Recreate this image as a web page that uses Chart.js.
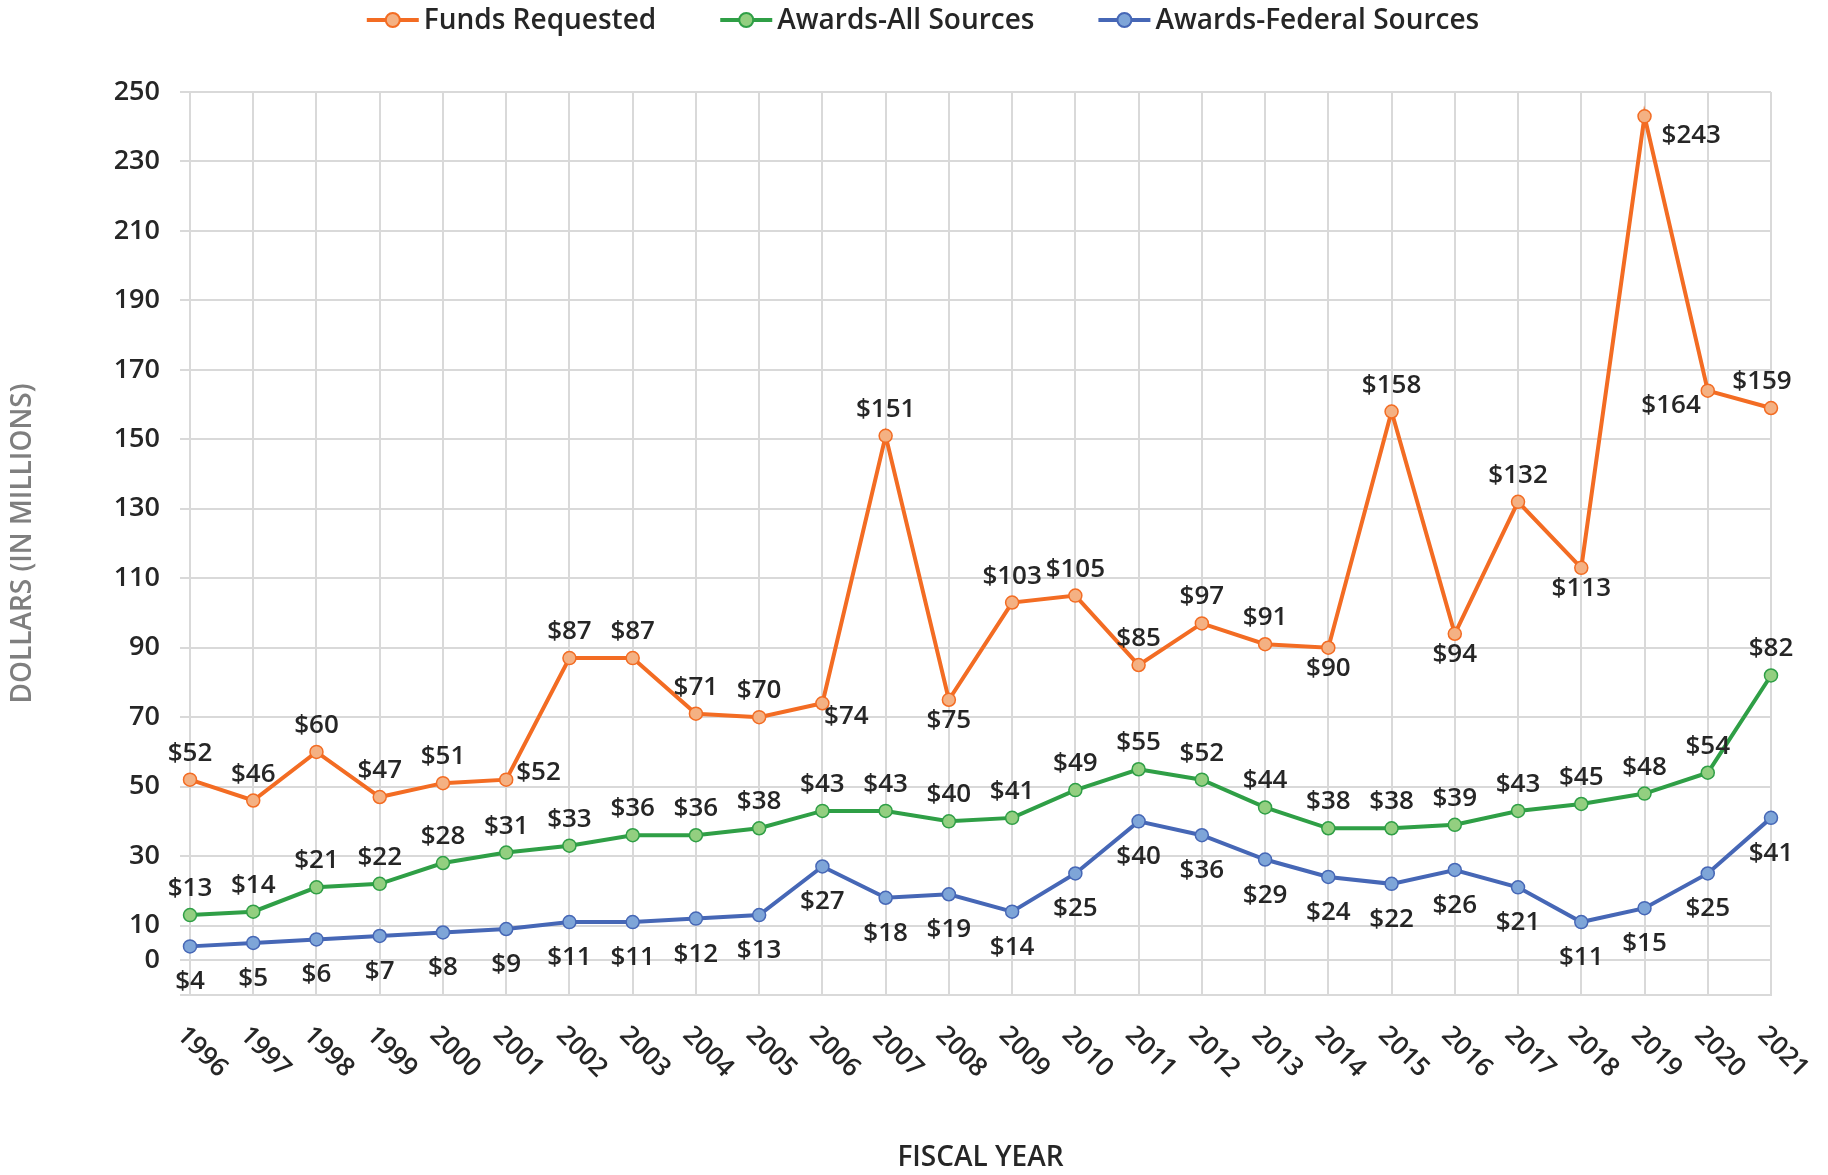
<!DOCTYPE html>
<html>
<head>
<meta charset="utf-8">
<script src="https://cdn.jsdelivr.net/npm/chart.js@4.4.1/dist/chart.umd.min.js"></script>
<style>
  html, body { margin: 0; padding: 0; background: #ffffff; }
</style>
</head>
<body>
<canvas id="c" width="1828" height="1175"></canvas>
<script>
// ===== Dados =====
const years = ['1996', '1997', '1998', '1999', '2000', '2001', '2002', '2003', '2004', '2005', '2006', '2007', '2008',
  '2009', '2010', '2011', '2012', '2013', '2014', '2015', '2016', '2017', '2018', '2019', '2020', '2021'];

const fundsRequested = [52, 46, 60, 47, 51, 52, 87, 87, 71, 70, 74, 151, 75, 103, 105, 85, 97, 91, 90, 158, 94, 132, 113, 243, 164, 159];
const awardsAll = [13, 14, 21, 22, 28, 31, 33, 36, 36, 38, 43, 43, 40, 41, 49, 55, 52, 44, 38, 38, 39, 43, 45, 48, 54, 82];
const awardsFederal = [4, 5, 6, 7, 8, 9, 11, 11, 12, 13, 27, 18, 19, 14, 25, 40, 36, 29, 24, 22, 26, 21, 11, 15, 25, 41];

const yTicks = [-10, 0, 10, 30, 50, 70, 90, 110, 130, 150, 170, 190, 210, 230, 250];

// onde fica cada rótulo de valor (t = acima, b = abaixo, r = direita ...)
const fundsLabelPos = ['t', 't', 't', 't', 't', 'r', 't', 't', 't', 't', 'br', 't', 'b',
  't', 't', 't', 't', 't', 'b', 't', 'b', 't', 'b', 'rb', 'lb', 'tl'];
const allLabelPos = ['t', 't', 't', 't', 't', 't', 't', 't', 't', 't', 't', 't', 't',
  't', 't', 't', 't', 't', 't', 't', 't', 't', 't', 't', 't', 't'];
const federalLabelPos = ['b2', 'b2', 'b2', 'b2', 'b2', 'b2', 'b2', 'b2', 'b2', 'b2', 'b2', 'b2', 'b2',
  'b2', 'b2', 'b2', 'b2', 'b2', 'b2', 'b2', 'b2', 'b2', 'b2', 'b2', 'b2', 'b2'];

// ===== Tema =====
const FONT = "'Open Sans', 'Noto Sans', sans-serif";
const INK = '#262626';
const GRID = '#d9d9d9';

const ORANGE = '#f36c23';
const ORANGE_FILL = '#f4b183';
const GREEN = '#2f9f46';
const GREEN_FILL = '#93cf80';
const BLUE = '#4667b6';
const BLUE_FILL = '#7ea5d8';

// offsets dos rótulos (baseline alfabética)
const OFFS = {
  t: { align: 'center', dx: 0, dy: -19 },
  tl: { align: 'center', dx: -9, dy: -19 },
  b: { align: 'center', dx: 0, dy: 28 },
  b2: { align: 'center', dx: 0, dy: 43 },
  r: { align: 'left', dx: 10, dy: 0 },
  rb: { align: 'left', dx: 17, dy: 27 },
  br: { align: 'center', dx: 24, dy: 21 },
  lb: { align: 'right', dx: -7, dy: 22 },
};

const valueLabels = {
  id: 'valueLabels',
  afterDatasetsDraw(chart) {
    const { ctx } = chart;
    ctx.save();
    ctx.font = `600 26px ${FONT}`;
    ctx.fillStyle = INK;
    ctx.textBaseline = 'alphabetic';
    chart.data.datasets.forEach((ds, di) => {
      const meta = chart.getDatasetMeta(di);
      meta.data.forEach((pt, i) => {
        const o = OFFS[ds.labelPos[i]] || OFFS.t;
        ctx.textAlign = o.align;
        ctx.fillText('$' + ds.data[i], pt.x + o.dx, pt.y + o.dy);
      });
    });
    ctx.restore();
  },
};

// anos inclinados para baixo/direita (Chart.js só gira no outro sentido)
const slantedYears = {
  id: 'slantedYears',
  afterDraw(chart) {
    const { ctx, chartArea } = chart;
    const xs = chart.scales.x;
    ctx.save();
    ctx.font = `600 26px ${FONT}`;
    ctx.fillStyle = INK;
    ctx.textAlign = 'left';
    ctx.textBaseline = 'middle';
    xs.ticks.forEach((t, i) => {
      const x = xs.getPixelForTick(i);
      ctx.save();
      ctx.translate(x - 9, chartArea.bottom + 36);
      ctx.rotate(Math.PI / 4);
      ctx.fillText(chart.data.labels[i], 0, 0);
      ctx.restore();
    });
    ctx.restore();
  },
};

// legenda no estilo Excel: linha + marcador
const lineLegend = {
  id: 'lineLegend',
  afterDraw(chart) {
    const { ctx } = chart;
    const y = 20;
    const markW = 52;
    const textGap = 5;
    const itemGap = 64;
    ctx.save();
    ctx.font = `600 28px ${FONT}`;
    ctx.textBaseline = 'middle';
    ctx.textAlign = 'left';
    const items = chart.data.datasets.map((ds) => ({ ds, w: ctx.measureText(ds.label).width }));
    const total = items.reduce((s, it) => s + markW + textGap + it.w, 0) + itemGap * (items.length - 1);
    let x = 923 - total / 2;
    items.forEach(({ ds, w }) => {
      ctx.strokeStyle = ds.borderColor;
      ctx.lineWidth = 4;
      ctx.beginPath();
      ctx.moveTo(x, y);
      ctx.lineTo(x + markW, y);
      ctx.stroke();
      ctx.beginPath();
      ctx.arc(x + markW / 2, y, 7, 0, Math.PI * 2);
      ctx.fillStyle = ds.pointBackgroundColor;
      ctx.fill();
      ctx.lineWidth = 2;
      ctx.strokeStyle = ds.pointBorderColor;
      ctx.stroke();
      ctx.fillStyle = INK;
      ctx.fillText(ds.label, x + markW + textGap, y + 1);
      x += markW + textGap + w + itemGap;
    });
    ctx.restore();
  },
};

function lineSet(label, data, color, fill, labelPos) {
  return {
    label,
    data,
    labelPos,
    borderColor: color,
    backgroundColor: color,
    borderWidth: 4,
    tension: 0,
    pointRadius: 6.5,
    pointBorderWidth: 1.5,
    pointBackgroundColor: fill,
    pointBorderColor: color,
    clip: false,
  };
}

new Chart(document.getElementById('c'), {
  type: 'line',
  data: {
    labels: years,
    datasets: [
      lineSet('Funds Requested', fundsRequested, ORANGE, ORANGE_FILL, fundsLabelPos),
      lineSet('Awards-All Sources', awardsAll, GREEN, GREEN_FILL, allLabelPos),
      lineSet('Awards-Federal Sources', awardsFederal, BLUE, BLUE_FILL, federalLabelPos),
    ],
  },
  options: {
    responsive: false,
    animation: false,
    layout: { padding: { top: 92, right: 57, left: 0, bottom: 0 } },
    plugins: {
      legend: { display: false },
      tooltip: { enabled: false },
    },
    scales: {
      x: {
        offset: false,
        afterFit: (s) => { s.height = 180; },
        ticks: { display: false },
        grid: { color: GRID, lineWidth: 2, drawTicks: false },
        border: { color: GRID, width: 2 },
        title: {
          display: true,
          text: 'FISCAL YEAR',
          color: INK,
          font: { family: FONT, size: 28, weight: '600' },
          padding: { top: 0, bottom: 0 },
        },
      },
      y: {
        min: -10,
        max: 250,
        afterFit: (s) => { s.width = 190; },
        afterBuildTicks: (s) => { s.ticks = yTicks.map((v) => ({ value: v })); },
        ticks: {
          autoSkip: false,
          padding: 20,
          color: INK,
          font: { family: FONT, size: 27, weight: '600' },
          callback: (v) => (v === -10 ? '' : v),
        },
        grid: { color: GRID, lineWidth: 2, tickLength: 10 },
        border: { color: GRID, width: 2 },
        title: {
          display: true,
          text: 'DOLLARS (IN MILLIONS)',
          color: '#7f7f7f',
          font: { family: FONT, size: 28, weight: '600' },
          padding: { top: 6, bottom: 0 },
        },
      },
    },
  },
  plugins: [valueLabels, slantedYears, lineLegend],
});
</script>
</body>
</html>
